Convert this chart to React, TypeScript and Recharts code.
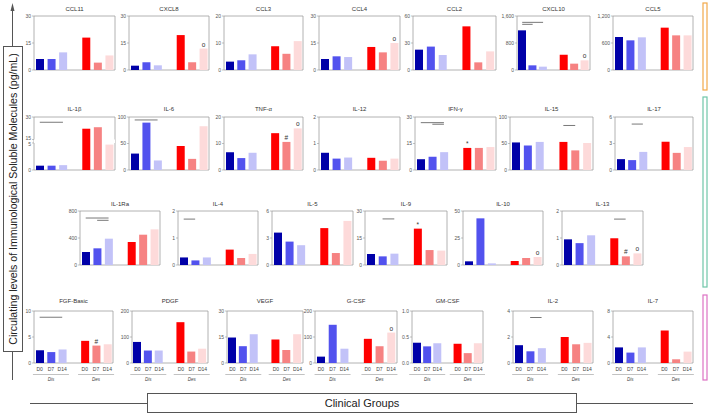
import React from "react";
import { BarChart, Bar, XAxis, YAxis, Cell, ReferenceArea, ReferenceLine, LabelList } from "recharts";

const days = ["D0", "D7", "D14"];
const groups = ["Dis", "Des"];
const barColors = ["#0000a8", "#5252ee", "#c2c2f8", "#ff0000", "#f68282", "#fddada"];

// each array: Dis D0, D7, D14, then Des D0, D7, D14 (pg/mL)
const ccl11 = [6.1, 6.1, 9.8, 18, 4.1, 8.1];
const cxcl8 = [2.4, 4.3, 2.6, 19.4, 4.3, 11.9];
const ccl3 = [3.1, 3.6, 5.8, 8.8, 6.0, 10.7];
const ccl4 = [6.1, 7.6, 7.2, 12.8, 9.8, 15];
const ccl2 = [22.6, 26, 16.7, 48.5, 8.5, 20.7];
const cxcl10 = [1175, 138, 99, 454, 188, 286];
const ccl5 = [733, 659, 726, 941, 770, 770];

const il1b = [0.8, 0.8, 0.9, 22.2, 23.2, 4.7];
const il6 = [31, 89.4, 18, 45.3, 21, 82.6];
const tnfa = [6.7, 4.5, 6.5, 13.9, 10.6, 15.7];
const il12 = [0.65, 0.43, 0.47, 0.46, 0.35, 0.43];
const ifng = [6.1, 7.5, 10.1, 12.5, 12.5, 13];
const il15 = [52, 46, 53, 53, 37, 51];
const il17 = [1.23, 1.12, 2.05, 3.2, 1.94, 2.6];

const il1ra = [193, 247, 390, 341, 449, 528];
const il4 = [0.28, 0.17, 0.28, 0.57, 0.26, 0.41];
const il5 = [3.6, 2.6, 2.2, 4.1, 1.33, 4.9];
const il9 = [6.1, 4.8, 6.3, 20.2, 8.3, 8.0];
const il10 = [3.4, 43.2, 1.5, 3.7, 6.5, 7.4];
const il13 = [0.95, 0.81, 1.1, 0.99, 0.32, 0.43];

const fgfBasic = [2.45, 2.1, 2.6, 4.26, 3.35, 3.6];
const pdgf = [81, 48, 48, 157, 44, 55];
const vegf = [14.7, 9.7, 16.6, 13.5, 7.5, 16.6];
const gcsf = [24.5, 147, 55, 93, 64.5, 117];
const gmcsf = [0.39, 0.32, 0.38, 0.37, 0.19, 0.38];
const il2 = [1.37, 0.9, 1.14, 2.0, 1.44, 1.55];
const il7 = [2.4, 1.6, 2.4, 5.0, 0.57, 1.75];

// symbols printed over bars
const cxcl8Marks = ["", "", "", "", "", "o"];
const ccl4Marks = ["", "", "", "", "", "o"];
const cxcl10Marks = ["", "", "", "", "", "o"];
const tnfaMarks = ["", "", "", "", "#", "o"];
const ifngMarks = ["", "", "", "*", "", ""];
const il9Marks = ["", "", "", "*", "", ""];
const il10Marks = ["", "", "", "", "", "o"];
const il13Marks = ["", "", "", "", "#", "o"];
const fgfMarks = ["", "", "", "", "#", ""];
const gcsfMarks = ["", "", "", "", "", "o"];

// significance bars: [from bar, to bar, height]
const cxcl10Sig = [[0, 2, 1412], [0, 1, 1353]];
const il1bSig = [[0, 2, 26.5]];
const il6Sig = [[0, 2, 94.4]];
const ifngSig = [[0, 2, 26.8], [1, 2, 25.9]];
const il15Sig = [[3, 4, 84]];
const il17Sig = [[1, 2, 5.2]];
const il1raSig = [[0, 2, 696], [1, 2, 662]];
const il4Sig = [[0, 1, 1.7]];
const il9Sig = [[1, 2, 25.6]];
const il13Sig = [[3, 4, 1.7]];
const fgfSig = [[0, 1, 8.8], [1, 2, 8.8]];
const il2Sig = [[1, 2, 3.5]];

type Spec = {
  title: string;
  values: number[];
  ticks: number[];
  marks?: string[];
  sig?: number[][];
  decimals?: number;
  broken?: boolean;
};

const row1: Spec[] = [
  { title: "CCL11", values: ccl11, ticks: [0, 15, 30] },
  { title: "CXCL8", values: cxcl8, ticks: [0, 15, 30], marks: cxcl8Marks },
  { title: "CCL3", values: ccl3, ticks: [0, 10, 20] },
  { title: "CCL4", values: ccl4, ticks: [0, 15, 30], marks: ccl4Marks },
  { title: "CCL2", values: ccl2, ticks: [0, 30, 60] },
  { title: "CXCL10", values: cxcl10, ticks: [0, 800, 1600], marks: cxcl10Marks, sig: cxcl10Sig },
  { title: "CCL5", values: ccl5, ticks: [0, 600, 1200] },
];
const row2: Spec[] = [
  { title: "IL-1β", values: il1b, ticks: [0, 5, 15, 30], sig: il1bSig, broken: true },
  { title: "IL-6", values: il6, ticks: [0, 50, 100], sig: il6Sig },
  { title: "TNF-α", values: tnfa, ticks: [0, 10, 20], marks: tnfaMarks },
  { title: "IL-12", values: il12, ticks: [0, 1, 2] },
  { title: "IFN-γ", values: ifng, ticks: [0, 15, 30], marks: ifngMarks, sig: ifngSig },
  { title: "IL-15", values: il15, ticks: [0, 50, 100], sig: il15Sig },
  { title: "IL-17", values: il17, ticks: [0, 3, 6], sig: il17Sig },
];
const row3: Spec[] = [
  { title: "IL-1Ra", values: il1ra, ticks: [0, 400, 800], sig: il1raSig },
  { title: "IL-4", values: il4, ticks: [0, 1, 2], sig: il4Sig },
  { title: "IL-5", values: il5, ticks: [0, 3, 6] },
  { title: "IL-9", values: il9, ticks: [0, 15, 30], marks: il9Marks, sig: il9Sig },
  { title: "IL-10", values: il10, ticks: [0, 25, 50], marks: il10Marks },
  { title: "IL-13", values: il13, ticks: [0, 1, 2], marks: il13Marks, sig: il13Sig },
];
const row4: Spec[] = [
  { title: "FGF-Basic", values: fgfBasic, ticks: [0, 5, 10], marks: fgfMarks, sig: fgfSig },
  { title: "PDGF", values: pdgf, ticks: [0, 100, 200] },
  { title: "VEGF", values: vegf, ticks: [0, 15, 30] },
  { title: "G-CSF", values: gcsf, ticks: [0, 100, 200], marks: gcsfMarks },
  { title: "GM-CSF", values: gmcsf, ticks: [0, 0.5, 1], decimals: 1 },
  { title: "IL-2", values: il2, ticks: [0, 2, 4], sig: il2Sig },
  { title: "IL-7", values: il7, ticks: [0, 4, 8] },
];

// plot frame of each panel: [left, right]; rows share top / bottom
const rowLayouts = [
  { specs: row1, top: 16, bottom: 70, titleY: 9, days: false,
    boxes: [[34, 115], [129, 209], [224, 303], [319, 400], [413, 496], [517, 590], [613, 693]] },
  { specs: row2, top: 117, bottom: 170, titleY: 109, days: false,
    boxes: [[34, 115], [129, 209], [224, 303], [319, 400], [415, 496], [510, 593], [615, 693]] },
  { specs: row3, top: 211, bottom: 265, titleY: 204, days: false,
    boxes: [[80, 160], [178, 258], [272, 353], [365, 447], [463, 543], [562, 643]] },
  { specs: row4, top: 311, bottom: 363, titleY: 301, days: true,
    boxes: [[34, 113], [132, 208], [227, 303], [315, 397], [412, 483], [513, 593], [613, 693]] },
];

const categories = ["Dis D0", "Dis D7", "Dis D14", "gap", "Des D0", "Des D7", "Des D14"];

function buildRows(spec: Spec) {
  const out: any[] = [];
  groups.forEach((g, gi) => {
    if (gi > 0) out.push({ key: "gap", value: null, mark: "", color: "none" });
    days.forEach((d, di) => {
      const i = gi * 3 + di;
      out.push({ key: `${g} ${d}`, value: spec.values[i], mark: spec.marks ? spec.marks[i] : "", color: barColors[i] });
    });
  });
  return out;
}

const barCat = (i: number) => categories[i < 3 ? i : i + 1];

// piecewise linear scale with a compressed 5–15 section (axis break)
function brokenScale(lo: number, hi: number, loShare: number, gapShare: number): any {
  let dom = [0, 1];
  let rng = [0, 1];
  const s: any = (v: number) => {
    let t: number;
    if (v <= lo) t = ((v - dom[0]) / (lo - dom[0])) * loShare;
    else if (v < hi) t = loShare + ((v - lo) / (hi - lo)) * gapShare;
    else t = loShare + gapShare + ((v - hi) / (dom[1] - hi)) * (1 - loShare - gapShare);
    return rng[0] + t * (rng[1] - rng[0]);
  };
  s.domain = (d?: number[]) => {
    if (d === undefined) return dom.slice();
    dom = [...d];
    return s;
  };
  s.range = (r?: number[]) => {
    if (r === undefined) return rng.slice();
    rng = [...r];
    return s;
  };
  s.copy = () => brokenScale(lo, hi, loShare, gapShare).domain(dom).range(rng);
  s.ticks = () => [dom[0], lo, hi, dom[1]];
  s.tickFormat = () => (v: number) => String(v);
  return s;
}

function DayTick(props: any) {
  const { x, y, payload } = props;
  const key: string = payload.value;
  if (key === "gap") return <g />;
  const [grp, day] = key.split(" ");
  return (
    <g>
      <text x={x} y={y + 8} textAnchor="middle" fontSize={5} fill="#444">{day}</text>
      {day === "D7" && (
        <g>
          <line x1={x - 18} x2={x + 18} y1={y + 11.5} y2={y + 11.5} stroke="#999" strokeWidth={0.6} />
          <text x={x} y={y + 18} textAnchor="middle" fontSize={4.5} fontStyle="italic" fill="#444">{grp}</text>
        </g>
      )}
    </g>
  );
}

function fmtTick(v: number, decimals?: number) {
  if (decimals) return v.toFixed(decimals);
  return v >= 1000 ? v.toLocaleString("en-US") : String(v);
}

// y tick label; on the broken axis the two labels at the break are pushed apart
function ValueTick(props: any) {
  const { x, y, payload, broken, decimals } = props;
  let dy = 1.8;
  if (broken && payload.value === 15) dy = 0.4;
  if (broken && payload.value === 5) dy = 3.4;
  return (
    <text x={x} y={y + dy} textAnchor="end" fontSize={5} fill="#555">
      {fmtTick(payload.value, decimals)}
    </text>
  );
}

function Panel({ spec, box, top, bottom, titleY, showDays }: any) {
  const [left, right] = box;
  const yw = 16;
  const mt = 4;
  const mr = 2;
  const mb = showDays ? 0 : 4;
  const xh = showDays ? 24 : 1;
  const plotW = right - left;
  const plotH = bottom - top;
  const w = yw + plotW + mr;
  const h = mt + plotH + xh + mb;
  const max = spec.ticks[spec.ticks.length - 1];
  const data = buildRows(spec);
  return (
    <>
      <div
        style={{
          position: "absolute",
          left,
          width: plotW,
          top: titleY - 4,
          height: 8,
          lineHeight: "8px",
          fontSize: 6,
          color: "#333",
          textAlign: "center",
          whiteSpace: "nowrap",
        }}
      >
        {spec.title}
      </div>
      <div style={{ position: "absolute", left: left - yw, top: top - mt, width: w, height: h }}>
        <BarChart width={w} height={h} data={data} margin={{ top: mt, right: mr, bottom: mb, left: 0 }}>
          <XAxis
            dataKey="key"
            height={xh}
            axisLine={false}
            tickLine={false}
            tickSize={0}
            tickMargin={0}
            interval={0}
            tick={showDays ? <DayTick /> : false}
          />
          <YAxis
            width={yw}
            domain={[0, max]}
            ticks={spec.ticks}
            interval={0}
            scale={spec.broken ? brokenScale(5, 15, 0.51, 0.065) : "linear"}
            axisLine={false}
            tickSize={2}
            tickMargin={1}
            tickLine={{ stroke: "#999", strokeWidth: 0.6 }}
            tick={<ValueTick broken={spec.broken} decimals={spec.decimals} />}
          />
          <ReferenceArea y1={0} y2={max} fill="none" stroke="#a0a0a0" strokeWidth={0.8} />
          <Bar dataKey="value" barSize={8} isAnimationActive={false}>
            {data.map((d: any, i: number) => (
              <Cell key={i} fill={d.color} />
            ))}
            <LabelList dataKey="mark" position="top" offset={2} fontSize={6.5} fill="#333" />
          </Bar>
          {spec.broken && <ReferenceArea y1={5} y2={15} fill="#ffffff" fillOpacity={1} stroke="none" />}
          {(spec.sig || []).map((s: number[], i: number) => (
            <ReferenceLine
              key={i}
              segment={[
                { x: barCat(s[0]), y: s[2] },
                { x: barCat(s[1]), y: s[2] },
              ]}
              stroke="#555"
              strokeWidth={0.8}
              ifOverflow="visible"
            />
          ))}
        </BarChart>
      </div>
    </>
  );
}

export default function App() {
  return (
    <div
      style={{
        position: "absolute",
        left: 0,
        top: 0,
        width: 709,
        height: 415,
        background: "#fff",
        fontFamily: "'Liberation Sans', Arial, sans-serif",
      }}
    >
      <svg width={709} height={415} style={{ position: "absolute", left: 0, top: 0 }}>
        <line x1={12.5} y1={380} x2={12.5} y2={10} stroke="#555" strokeWidth={1} />
        <polygon points="12.5,3 10.5,11 14.5,11" fill="#555" />
        <rect x={3.5} y={46.5} width={19} height={305} fill="#fff" stroke="#555" strokeWidth={1} />
        <text
          x={0}
          y={0}
          transform="translate(17,199) rotate(-90)"
          textAnchor="middle"
          fontSize={10.6}
          fill="#222"
        >
          Circulating levels of Immunological Soluble Molecules (pg/mL)
        </text>
        <line x1={30} y1={403.5} x2={693} y2={403.5} stroke="#555" strokeWidth={1} />
        <rect x={147.5} y={393.5} width={429} height={19} fill="#fff" stroke="#555" strokeWidth={1} />
        <text x={362} y={407} textAnchor="middle" fontSize={11} fill="#222">Clinical Groups</text>
        <rect x={703} y={3} width={4} height={87} fill="#fff" stroke="#f2a94a" strokeWidth={1.2} />
        <rect x={703} y={97} width={4} height={190} fill="#fff" stroke="#6fc6a8" strokeWidth={1.2} />
        <rect x={703} y={295} width={4} height={85} fill="#fff" stroke="#dd72c4" strokeWidth={1.2} />
      </svg>
      {rowLayouts.map((row, ri) =>
        row.specs.map((spec, pi) => (
          <Panel
            key={`${ri}-${pi}`}
            spec={spec}
            box={row.boxes[pi]}
            top={row.top}
            bottom={row.bottom}
            titleY={row.titleY}
            showDays={row.days}
          />
        ))
      )}
    </div>
  );
}
